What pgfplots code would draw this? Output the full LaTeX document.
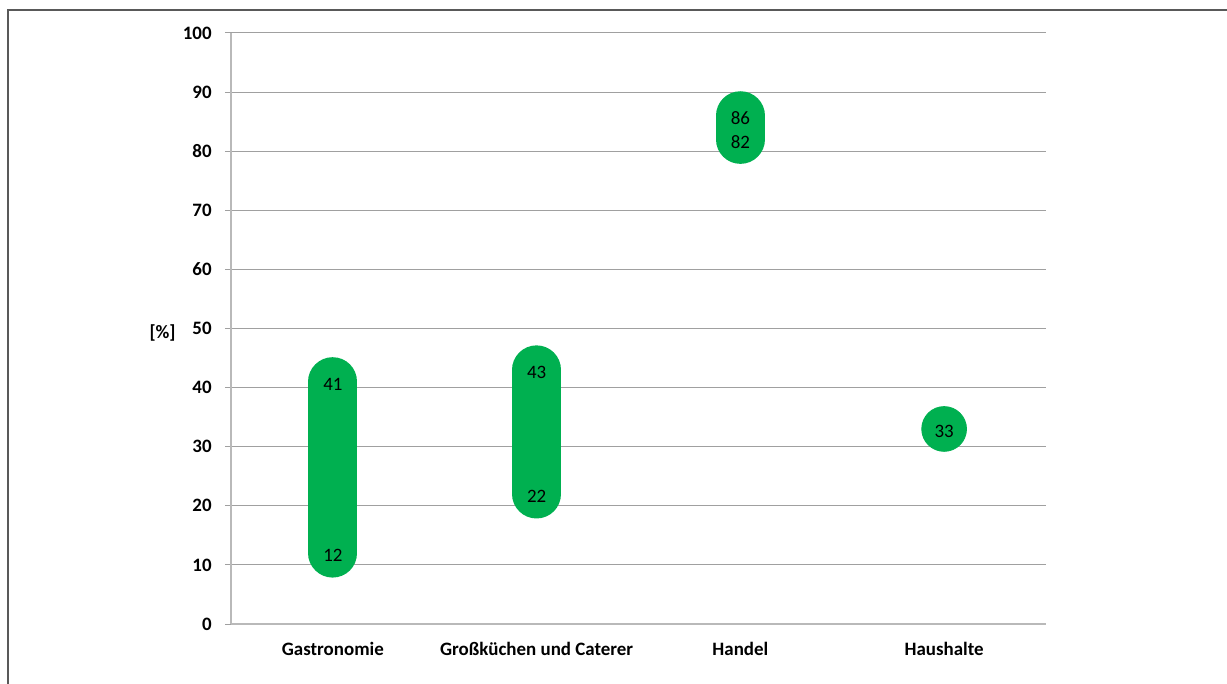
\documentclass[border=0pt]{standalone}
\usepackage{fontspec}
\setmainfont{Carlito}
\usepackage{pgfplots}
\pgfplotsset{compat=1.18}
\definecolor{xlgreen}{RGB}{0,176,80}
\definecolor{gridc}{RGB}{160,160,160}
\definecolor{axc}{RGB}{185,185,185}
\newcommand{\lblfont}{\fontsize{9.5}{11}\selectfont}
\begin{document}
\begin{tikzpicture}
\begin{axis}[
  at={(0,0)}, anchor=south west,
  scale only axis, width=407.5bp, height=295.5bp,
  xmin=-0.5, xmax=3.5, ymin=0, ymax=100,
  clip=false,
  axis x line*=bottom, axis y line*=left,
  axis line style={draw=axc, line width=0.6bp, -},
  ytick={0,10,...,100},
  ymajorgrids, grid style={draw=gridc, line width=0.5bp},
  xtick={0,1,2,3},
  xticklabels={Gastronomie, Großküchen und Caterer, Handel, Haushalte},
  xtick style={draw=none},
  extra x ticks={-0.5,0.5,1.5,2.5,3.5},
  extra x tick labels={},
  extra x tick style={tick style={draw=axc, line width=0.6bp}, major tick length=3bp, tick align=outside, grid=none},
  ytick style={draw=gridc, line width=0.5bp},
  tick align=outside, major tick length=3bp,
  /pgf/number format/assume math mode=true,
  yticklabel style={font=\bfseries\lblfont, anchor=east, inner sep=0pt, xshift=-6.5bp},
  xticklabel style={font=\bfseries\lblfont, anchor=north, inner sep=0pt, yshift=-6bp},
  ylabel={[\%]},
  every axis y label/.style={at={(axis description cs:0,0.5)}, anchor=east, font=\bfseries\lblfont, inner sep=0pt, xshift=-27.5bp, yshift=-2bp},
]
\addplot[draw=xlgreen, line width=24.5bp, line cap=round] coordinates {(0,12) (0,41)};
\addplot[draw=xlgreen, line width=24.5bp, line cap=round] coordinates {(1,22) (1,43)};
\addplot[draw=xlgreen, line width=24.5bp, line cap=round] coordinates {(2,82) (2,86)};
\addplot[only marks, mark=*, mark size=11.2bp, mark options={draw=xlgreen, fill=xlgreen}] coordinates {(3,33)};
\addplot[only marks, mark=none, point meta=y,
  nodes near coords={\pgfmathprintnumber{\pgfplotspointmeta}},
  every node near coord/.style={anchor=center, font=\lblfont, text=black, inner sep=0pt, yshift=-1.2bp}]
  coordinates {(0,12) (0,41) (1,22) (1,43) (2,82) (2,86) (3,33)};
\end{axis}
\draw[draw=black!65, line width=0.75bp] (-111.5bp,-30bp) -- (-111.5bp,307bp) -- (498bp,307bp);
\pgfresetboundingbox
\useasboundingbox (-115.5bp,-30bp) rectangle (498bp,312bp);
\end{tikzpicture}
\end{document}
